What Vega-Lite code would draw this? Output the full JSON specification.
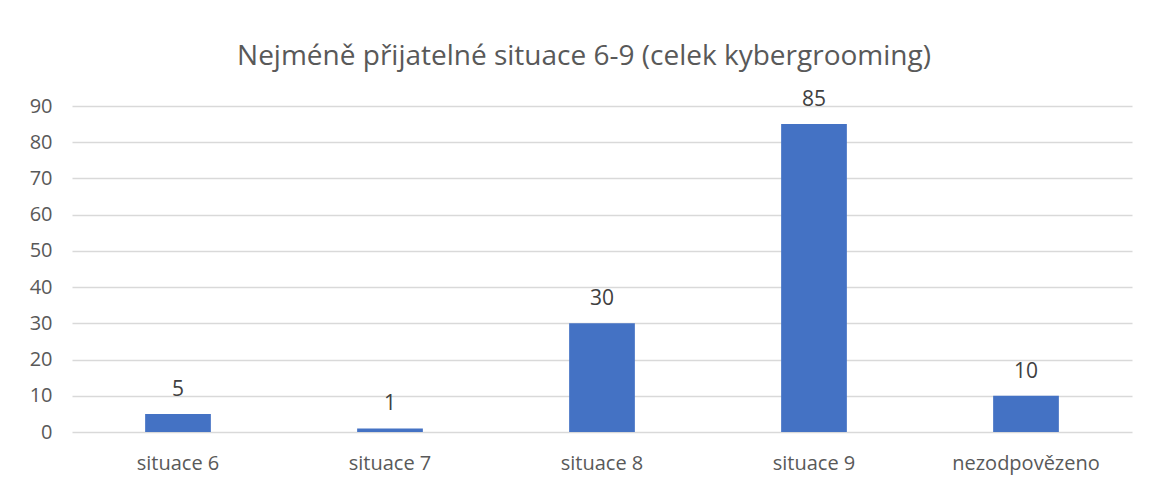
{
  "$schema": "https://vega.github.io/schema/vega-lite/v6.json",
  "width": 1060,
  "height": 326,
  "autosize": "none",
  "padding": {"left": 72, "top": 106, "right": 17, "bottom": 54},
  "background": "white",
  "title": {
    "text": "Nejméně přijatelné situace 6-9 (celek kybergrooming)",
    "font": "Open Sans",
    "fontSize": 28,
    "fontWeight": "normal",
    "color": "#595959",
    "anchor": "middle",
    "dx": -18,
    "offset": 18
  },
  "data": {
    "values": [
      {"kategorie": "situace 6", "hodnota": 5},
      {"kategorie": "situace 7", "hodnota": 1},
      {"kategorie": "situace 8", "hodnota": 30},
      {"kategorie": "situace 9", "hodnota": 85},
      {"kategorie": "nezodpovězeno", "hodnota": 10}
    ]
  },
  "config": {
    "view": {"stroke": null},
    "axis": {"labelFont": "Open Sans", "labelFontSize": 20, "labelColor": "#595959"}
  },
  "encoding": {
    "x": {
      "field": "kategorie",
      "type": "nominal",
      "sort": null,
      "scale": {"paddingInner": 0.69, "paddingOuter": 0.345},
      "axis": {"title": null, "labelAngle": 0, "ticks": false, "domain": false, "labelPadding": 21}
    },
    "y": {
      "field": "hodnota",
      "type": "quantitative",
      "scale": {"domain": [0, 90], "nice": false},
      "axis": {"title": null, "values": [0,10,20,30,40,50,60,70,80,90], "ticks": false, "domain": false, "labelPadding": 20, "gridColor": "#D9D9D9", "gridWidth": 1.3}
    }
  },
  "layer": [
    {"mark": {"type": "bar", "color": "#4472C4"}},
    {
      "mark": {"type": "text", "baseline": "alphabetic", "dy": -18, "font": "Open Sans", "fontSize": 21, "color": "#404040"},
      "encoding": {"text": {"field": "hodnota", "type": "quantitative"}}
    }
  ]
}
